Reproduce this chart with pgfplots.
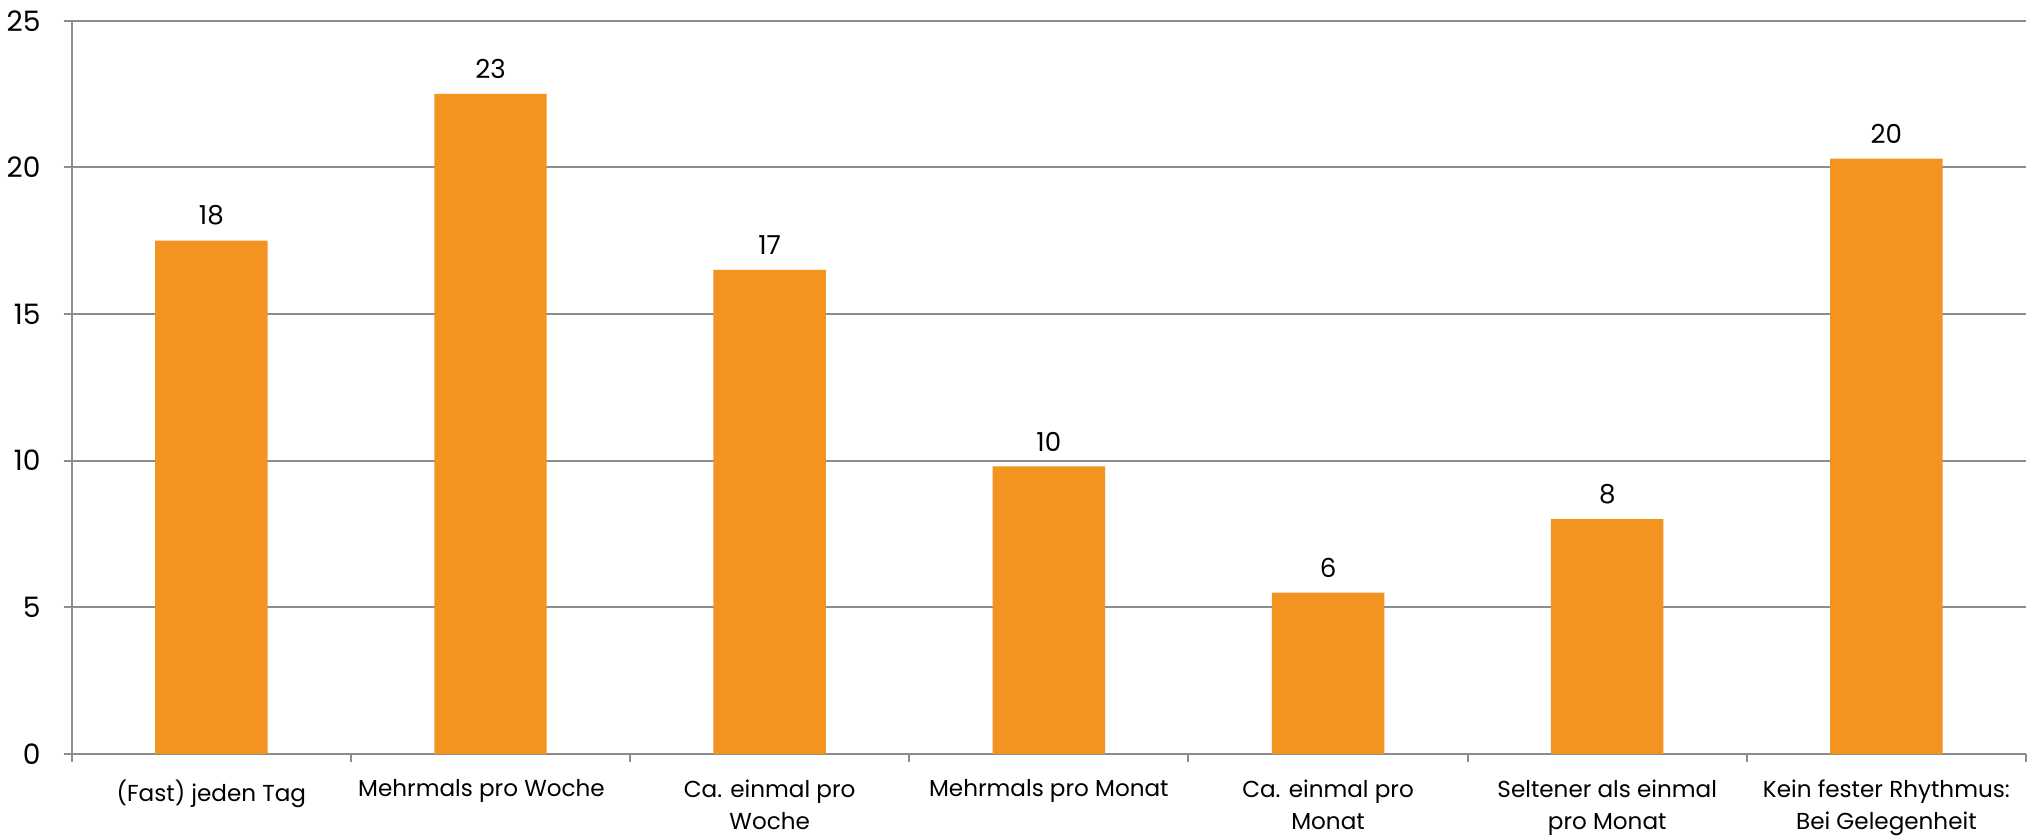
\documentclass[border=0pt]{standalone}
\usepackage{pgfplots}
\pgfplotsset{compat=1.18}
\usepackage{fontspec}
\setmainfont{Poppins}
\definecolor{barorange}{HTML}{F39320}
\definecolor{axgray}{HTML}{8C8C8C}
\begin{document}
\begin{tikzpicture}
\begin{axis}[
  scale only axis,
  width=973pt, height=365pt,
  clip=false,
  ybar, bar width=56pt,
  xmin=-0.5, xmax=6.5,
  ymin=0, ymax=25,
  ytick={0,5,...,25},
  xtick={0,...,6},
  xticklabels={(Fast) jeden Tag,Mehrmals pro Woche\hspace*{9pt},Ca. einmal pro\\Woche,Mehrmals pro Monat,Ca. einmal pro\\Monat,Seltener als einmal\\pro Monat,Kein fester Rhythmus:\\Bei Gelegenheit},
  x tick label style={align=center, inner ysep=0pt, yshift=-8.7pt, font=\fontsize{11.5}{16}\selectfont},
  minor xtick={-0.5,0.5,...,6.5},
  major x tick style={draw=none},
  minor x tick style={axgray, line width=1pt},
  tick align=outside,
  major tick length=4pt, minor tick length=4pt,
  axis x line*=bottom, axis y line*=left,
  axis line style={axgray, line width=1pt},
  y tick style={axgray, line width=1pt},
  ymajorgrids,
  grid style={axgray, line width=1pt},
  y tick label style={xshift=-8pt, font=\fontsize{14}{16}\selectfont},
  /pgf/number format/assume math mode=true,
  point meta=explicit symbolic,
  nodes near coords,
  nodes near coords style={font=\fontsize{13}{15}\selectfont, yshift=4pt},
]
\addplot[fill=barorange, draw=none] coordinates {
  (0,17.5) [18]
  (1,22.5) [23]
  (2,16.5) [17]
  (3,9.8)  [10]
  (4,5.5)  [6]
  (5,8.0)  [8]
  (6,20.3) [20]
};
% keep the white margin above the top gridline
\path (rel axis cs:0,1) -- ++(0pt,10.3pt);
\end{axis}
\end{tikzpicture}
\end{document}
